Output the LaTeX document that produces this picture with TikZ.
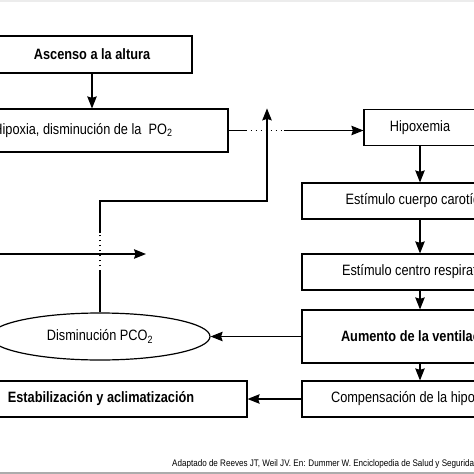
\documentclass[tikz,border=0pt]{standalone}
\usepackage{fontspec}
\setmainfont[FakeStretch=0.85]{Liberation Sans}
\usetikzlibrary{arrows.meta,shapes.geometric}

\begin{document}
\begin{tikzpicture}[x=1pt,y=-1pt,>={Stealth[length=12pt,width=9.5pt,inset=1.5pt]},
  caja/.style={draw,line width=1.2pt,inner sep=0pt,font=\fontsize{15}{17}\selectfont},
  negrita/.style={caja,font=\fontsize{15}{17}\selectfont\bfseries},
  linea/.style={line width=1.2pt},
  punteado/.style={linea,dash pattern=on 1.4pt off 3.6pt},
  flecha/.style={linea,->}]
  \useasboundingbox (0,0) rectangle (474,474);
  \clip (0,0) rectangle (474,474);
  \fill[gray!15] (0,0) rectangle (474,2);
  \fill[gray!65] (0,472) rectangle (474,474);
  % left column
  \node[negrita,minimum width=200pt,minimum height=37pt] (ascenso) at (92,54.5) {Ascenso a la altura};
  \node[caja,minimum width=290pt,minimum height=43pt] (hipoxia) at (83,130.5) {Hipoxia, disminución de la\ \ PO\textsubscript{2}};
  \node[caja,ellipse,minimum width=220pt,minimum height=47pt] (pco2) at (100,336.5) {Disminución PCO\textsubscript{2}};
  \node[negrita,minimum width=292pt,minimum height=36pt] (estabiliza) at (101,399) {Estabilización y aclimatización};
  % right column
  \node[caja,minimum width=112pt,minimum height=36.5pt] (hipoxemia) at (420,127.5) {Hipoxemia};
  \node[caja,minimum width=236pt,minimum height=36pt] (cuerpo) at (420,201) {Estímulo cuerpo carotídeo};
  \node[caja,minimum width=236pt,minimum height=36pt] (centro) at (420,272) {Estímulo centro respiratorio};
  \node[negrita,minimum width=236pt,minimum height=53pt] (aumento) at (420,336.5) {Aumento de la ventilación};
  \node[caja,minimum width=236pt,minimum height=36pt] (compensacion) at (420,399) {Compensación de la hipoxemia};
  \node[anchor=west,inner sep=0pt,font=\fontsize{9.5}{11}\selectfont] (fuente) at (172,464) {Adaptado de Reeves JT, Weil JV. En: Dummer W. Enciclopedia de Salud y Seguridad en el Trabajo};
  % connectors
  \coordinate (esquina) at (267,201);
  \coordinate (entrada) at (-10,254);
  \coordinate (salida) at (146,254);
  \draw[flecha] (ascenso.south) -- (ascenso.south |- hipoxia.north);
  \draw[linea] (hipoxia.east) -- ++(17,0) coordinate (p1);
  \draw[punteado] (p1) -- ++(38,0) coordinate (p2);
  \draw[flecha] (p2) -- (hipoxemia.west |- p2);
  \draw[linea] (pco2.north) -- ++(0,-41) coordinate (q1);
  \draw[punteado] (q1) -- ++(0,-38) coordinate (q2);
  \draw[flecha] (q2) -- (q2 |- esquina) -- (esquina) -- (esquina |- hipoxia.north);
  \draw[flecha] (entrada) -- (salida);
  \draw[flecha] (hipoxemia) -- (cuerpo);
  \draw[flecha] (cuerpo) -- (centro);
  \draw[flecha] (centro) -- (aumento);
  \draw[flecha] (aumento) -- (compensacion);
  \draw[flecha] (aumento) -- (pco2);
  \draw[flecha] (compensacion) -- (estabiliza);
\end{tikzpicture}
\end{document}
